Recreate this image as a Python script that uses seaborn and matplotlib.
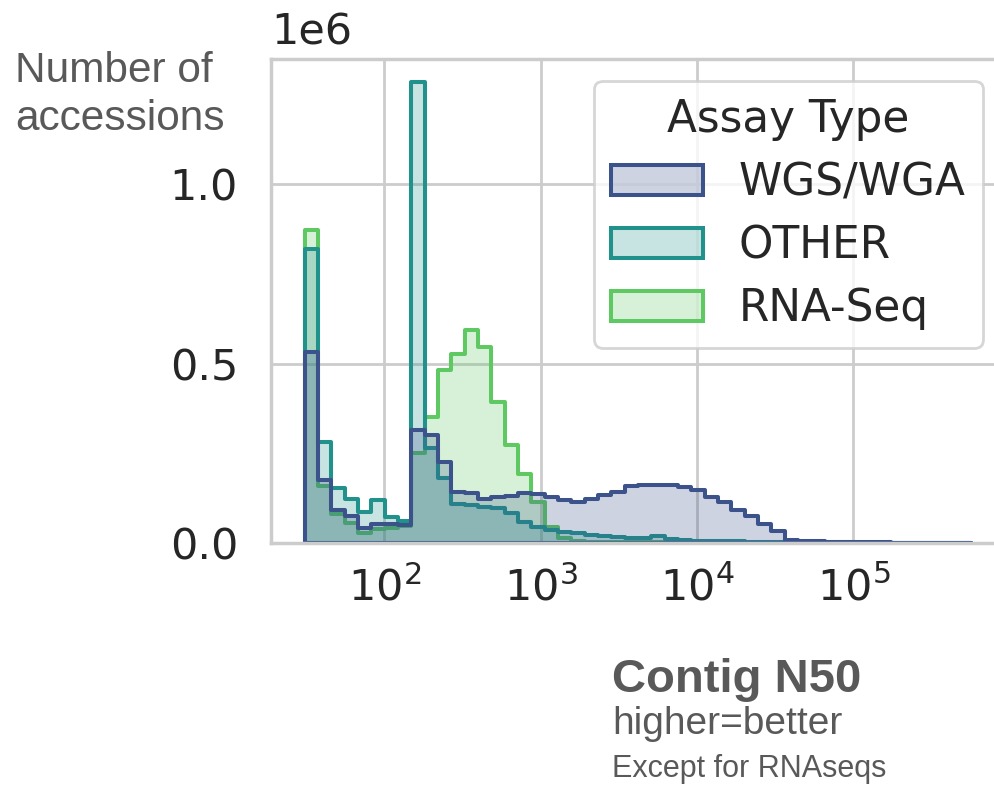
import numpy as np
import pandas as pd
import matplotlib
matplotlib.use("Agg")
import matplotlib.pyplot as plt
from matplotlib.ticker import MultipleLocator
import seaborn as sns

# Assay types shown as hue levels
assay_types = ["WGS/WGA", "OTHER", "RNA-Seq"]

# Contig N50 histogram bins (log10 of bp), shared by all assay types
n50_log10_edges = np.linspace(1.491, 5.753, 51)

# Accessions per bin, in thousands
wgs_wga_k = [533, 175, 91, 74, 42, 52, 54, 49, 316, 300,
             227, 143, 138, 124, 129, 130, 140, 137, 129, 119,
             115, 123, 133, 143, 158, 162, 162, 161, 156, 149,
             129, 115, 91, 75, 54, 33, 9, 6.5, 5, 4,
             3, 2.5, 2, 1.5, 1.2, 1, 1, 0.8, 0.6, 0.5]
other_k = [820, 281, 154, 123, 86, 121, 72, 60, 1285, 265,
           180, 110, 106, 101, 97, 85, 59, 45, 36, 31,
           27, 23, 20, 16, 13, 13, 19, 10, 8, 7,
           6, 5, 4.5, 4, 3.5, 3, 2.5, 2.2, 2, 1.8,
           1.6, 1.4, 1.2, 1, 0.9, 0.8, 0.7, 0.6, 0.5, 0.4]
rna_seq_k = [872, 160, 82, 57, 28, 40, 43, 47, 250, 352,
             482, 528, 593, 547, 394, 273, 193, 113, 46, 14,
             6, 4, 3, 3, 2, 2, 2, 1.5, 1, 1,
             0.8, 0.6, 0.5, 0.4, 0.3, 0.3, 0.2, 0.2, 0.2, 0.1,
             0.1, 0.1, 0.1, 0.1, 0.1, 0.1, 0.1, 0.1, 0.1, 0.1]

bin_centers = 10 ** ((n50_log10_edges[:-1] + n50_log10_edges[1:]) / 2)
frames = []
for name, counts in zip(assay_types, [wgs_wga_k, other_k, rna_seq_k]):
    frames.append(pd.DataFrame({
        "Contig N50": bin_centers,
        "Assay Type": name,
        "accessions": np.asarray(counts, dtype=float) * 1000,
    }))
df = pd.concat(frames, ignore_index=True)

sns.set_theme(style="whitegrid", context="poster")
plt.rcParams.update({
    "font.family": ["DejaVu Sans"],
    "xtick.labelsize": 31,
    "ytick.labelsize": 31,
    "legend.fontsize": 31.5,
    "legend.title_fontsize": 31.5,
    "legend.handlelength": 2.1,
    "legend.labelspacing": 0.46,
    "text.color": ".15",
})

fig = plt.figure(figsize=(9.94, 7.87), dpi=100)
ax = fig.add_axes([0.2730, 0.3100, 0.7376, 0.6154])

sns.histplot(
    data=df, x="Contig N50", hue="Assay Type", weights="accessions",
    hue_order=assay_types, bins=n50_log10_edges.tolist(), log_scale=True,
    element="step", palette="viridis", linewidth=2.9, ax=ax,
)

ax.set_xlabel("")
ax.set_ylabel("")
ax.yaxis.set_major_locator(MultipleLocator(5e5))
ax.tick_params(axis="both", length=0)
ax.tick_params(axis="y", pad=24)
ax.tick_params(axis="x", pad=17)
ax.yaxis.get_offset_text().set_fontsize(31)
ax.yaxis.OFFSETTEXTPAD = 10

sns.move_legend(ax, "upper right")

label_color = "#595959"
fig.text(0.0151, 0.8958, "Number of", fontsize=30.5, color=label_color,
         family="Liberation Sans", va="baseline", ha="left")
fig.text(0.0151, 0.8348, "accessions", fontsize=30.5, color=label_color,
         family="Liberation Sans", va="baseline", ha="left")
fig.text(0.6157, 0.1207, "Contig N50", fontsize=34, fontweight="bold",
         color=label_color, family="Liberation Sans", va="baseline", ha="left")
fig.text(0.6157, 0.0673, "higher=better", fontsize=28, color=label_color,
         family="Liberation Sans", va="baseline", ha="left")
fig.text(0.6157, 0.0127, "Except for RNAseqs", fontsize=22, color=label_color,
         family="Liberation Sans", va="baseline", ha="left")

fig.savefig("out.png", dpi=100)
